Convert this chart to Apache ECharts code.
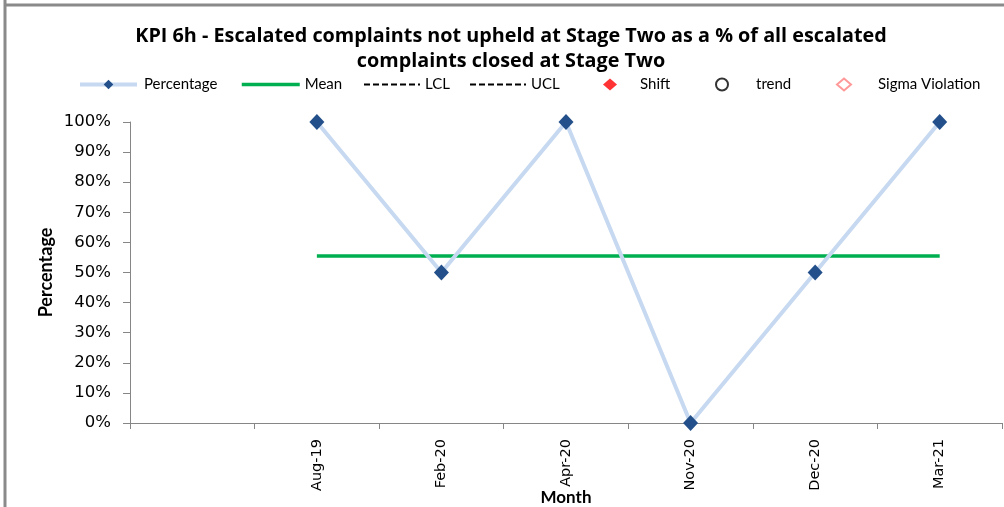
<!DOCTYPE html>
<html>
<head>
<meta charset="utf-8">
<script src="https://cdn.jsdelivr.net/npm/echarts@6/dist/echarts.min.js"></script>
<style>
  html, body { margin: 0; padding: 0; background: #fff; }
  #chart { width: 1004px; height: 507px; }
</style>
</head>
<body>
<div id="chart"></div>
<script>
// data
var months = ['', 'Aug-19', 'Feb-20', 'Apr-20', 'Nov-20', 'Dec-20', 'Mar-21'];
var percentage = [null, 1, 0.5, 1, 0, 0.5, 1];
var mean = [null, 0.555, 0.555, 0.555, 0.555, 0.555, 0.555];
var yTicks = [0, 0.1, 0.2, 0.3, 0.4, 0.5, 0.6, 0.7, 0.8, 0.9, 1];

var chart = echarts.init(document.getElementById('chart'));

function legendAt(name, left, w, textPad, hideSymbol, lineW) {
  var item = { name: name };
  if (hideSymbol) item.itemStyle = { opacity: 0 };
  var lg = {
    data: [item], left: left, top: 77, padding: 0, itemWidth: w, itemHeight: 12,
    textStyle: { fontFamily: 'Lato', fontSize: 15, color: '#000', padding: [0, 0, 0, textPad] },
    selectedMode: false
  };
  if (lineW) lg.lineStyle = { width: lineW };
  return lg;
}

chart.setOption({
  animation: false,
  title: {
    text: 'KPI 6h - Escalated complaints not upheld at Stage Two as a % of all escalated\ncomplaints closed at Stage Two',
    left: 506, textAlign: 'center', top: 19,
    textStyle: { fontFamily: 'Open Sans', fontWeight: 'bold', fontSize: 19.8, lineHeight: 25, color: '#000' }
  },
  legend: [
    legendAt('Percentage', 78, 57, 2, false, 4),
    legendAt('Mean', 240, 58, 0, true, 3.5),
    legendAt('LCL', 363, 56, 0, true, 2),
    legendAt('UCL', 469, 56, 0, true, 2),
    legendAt('Shift', 603, 14, 18, false),
    legendAt('trend', 715, 14, 22, false),
    legendAt('Sigma Violation', 836, 14, 22, false)
  ],
  grid: { left: 130, top: 122, right: 2, bottom: 84, outerBoundsMode: 'none', containLabel: false },
  xAxis: {
    type: 'category',
    data: months,
    boundaryGap: true,
    name: 'Month',
    nameLocation: 'middle',
    nameGap: 66,
    nameMoveOverlap: false,
    nameTextStyle: { fontFamily: 'Lato', fontWeight: 'bold', fontSize: 17, color: '#000' },
    axisLine: { lineStyle: { color: '#868686', width: 1 } },
    axisTick: { show: true, length: 6, lineStyle: { color: '#868686' } },
    axisLabel: { rotate: 90, margin: 16, interval: 0, fontFamily: 'DejaVu Sans', fontSize: 14.5, color: '#000' },
    splitLine: { show: false }
  },
  yAxis: {
    type: 'value',
    min: 0, max: 1, interval: 0.1,
    name: 'Percentage',
    nameLocation: 'middle',
    nameGap: 75,
    nameMoveOverlap: false,
    nameTextStyle: { fontFamily: 'Lato', fontWeight: 'bold', fontSize: 18, color: '#000' },
    axisLine: { show: true, lineStyle: { color: '#868686', width: 1 } },
    axisTick: { show: true, length: 7, inside: false, lineStyle: { color: '#868686' } },
    axisLabel: {
      margin: 19, fontFamily: 'DejaVu Sans', fontSize: 16.5, color: '#000',
      formatter: function (v) {
        return yTicks.some(function (t) { return Math.abs(t - v) < 1e-9; }) ? Math.round(v * 100) + '%' : '';
      }
    },
    splitLine: { show: false }
  },
  series: [
    {
      name: 'Percentage', type: 'line', data: percentage,
      symbol: 'diamond', symbolSize: [15, 16],
      lineStyle: { color: '#c6d9f1', width: 4 },
      itemStyle: { color: '#23508a' },
      z: 3
    },
    {
      name: 'Mean', type: 'line', data: mean, symbol: 'none',
      lineStyle: { color: '#00b050', width: 3.5 },
      itemStyle: { color: '#00b050' },
      z: 2
    },
    {
      name: 'LCL', type: 'line', data: [], symbol: 'none',
      lineStyle: { color: '#000', width: 2, type: [6, 3] },
      itemStyle: { color: '#000' }
    },
    {
      name: 'UCL', type: 'line', data: [], symbol: 'none',
      lineStyle: { color: '#000', width: 2, type: [6, 3] },
      itemStyle: { color: '#000' }
    },
    {
      name: 'Shift', type: 'scatter', data: [], symbol: 'diamond', symbolSize: 8,
      itemStyle: { color: '#ff0000' }
    },
    {
      name: 'trend', type: 'scatter', data: [], symbol: 'circle', symbolSize: 8,
      itemStyle: { color: '#fff', borderColor: '#000', borderWidth: 1 }
    },
    {
      name: 'Sigma Violation', type: 'scatter', data: [], symbol: 'diamond', symbolSize: 9,
      itemStyle: { color: '#fff', borderColor: '#ff8080', borderWidth: 1 }
    }
  ],
  graphic: [
    { type: 'line', shape: { x1: 5, y1: 5, x2: 1004, y2: 5 }, style: { stroke: '#8a8a8a', lineWidth: 3 } },
    { type: 'line', shape: { x1: 5, y1: 0, x2: 5, y2: 507 }, style: { stroke: '#8a8a8a', lineWidth: 3 } }
  ]
});
</script>
</body>
</html>
